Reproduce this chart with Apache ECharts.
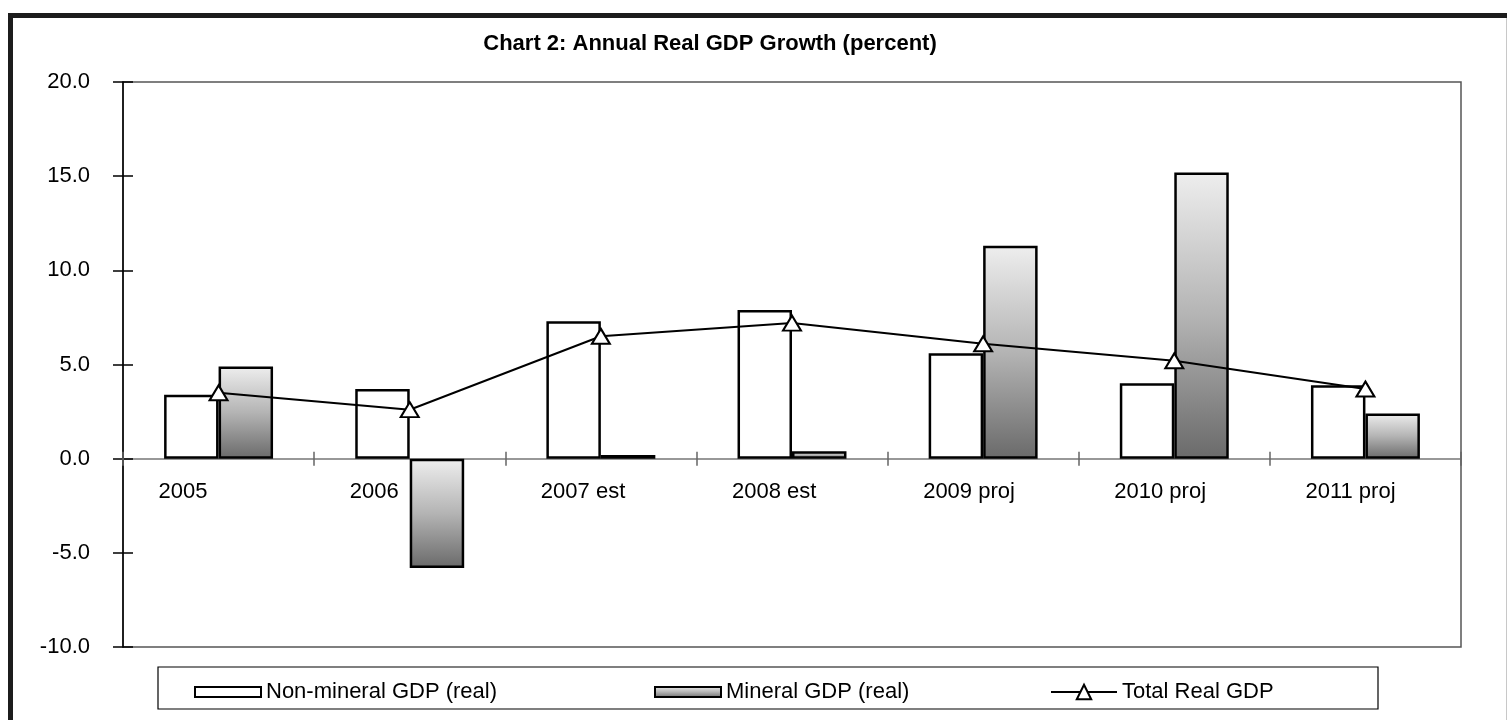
<!DOCTYPE html>
<html>
<head>
<meta charset="utf-8">
<script src="https://cdn.jsdelivr.net/npm/echarts@6/dist/echarts.min.js"></script>
<style>
html,body{margin:0;padding:0;background:#fff;}
#chart{width:1507px;height:720px;}
</style>
</head>
<body>
<div id="chart"></div>
<script>
var categories = ['2005', '2006', '2007 est', '2008 est', '2009 proj', '2010 proj', '2011 proj'];
var nonMineral = [3.4, 3.7, 7.3, 7.9, 5.6, 4.0, 3.9];
var mineral = [4.9, -5.8, 0.2, 0.4, 11.3, 15.2, 2.4];
var totalReal = [3.5, 2.6, 6.5, 7.2, 6.1, 5.2, 3.7];
var seriesNames = ['Non-mineral GDP (real)', 'Mineral GDP (real)', 'Total Real GDP'];
var titleText = 'Chart 2: Annual Real GDP Growth (percent)';
var yMin = -10, yMax = 20, yStep = 5;

var FONT = '"Liberation Sans", Arial, sans-serif';
var chart = echarts.init(document.getElementById('chart'), null, {renderer: 'canvas'});

var mineralGrad = new echarts.graphic.LinearGradient(0, 0, 0, 1, [
  {offset: 0, color: '#eeeeee'},
  {offset: 0.5, color: '#b4b4b4'},
  {offset: 1, color: '#6a6a6a'}
]);

var legendBase = {
  top: 681, padding: 0, itemWidth: 66, itemHeight: 10,
  textStyle: {fontFamily: FONT, fontSize: 22, color: '#000', lineHeight: 22},
  selectedMode: false
};

chart.setOption({
  animation: false,
  backgroundColor: '#fff',
  title: {
    text: titleText,
    left: 710, top: 33, padding: 0, textAlign: 'center',
    textStyle: {fontFamily: FONT, fontSize: 22, fontWeight: 'bold', color: '#000', lineHeight: 22}
  },
  grid: {
    left: 123, right: 46, top: 82, bottom: 73,
    show: true, borderColor: '#555', borderWidth: 1.5, backgroundColor: 'transparent'
  },
  legend: [
    Object.assign({}, legendBase, {left: 194, data: [{name: seriesNames[0], icon: 'rect'}]}),
    Object.assign({}, legendBase, {left: 654, data: [{name: seriesNames[1], icon: 'rect'}]}),
    Object.assign({}, legendBase, {left: 1050, itemHeight: 18, data: [seriesNames[2]]})
  ],
  xAxis: [{
    type: 'category', data: categories, boundaryGap: true, position: 'bottom',
    axisLine: {onZero: true, onZeroAxisIndex: 0, lineStyle: {color: '#777', width: 1.5}},
    axisTick: {show: true, inside: false, length: 7, lineStyle: {color: '#666', width: 1.5}},
    axisLabel: {
      fontFamily: FONT, fontSize: 22, color: '#000', margin: -166,
      align: 'left', padding: [0, 0, 0, -60], lineHeight: 22
    },
    splitLine: {show: false}
  }, {
    type: 'category', data: categories, boundaryGap: true, position: 'bottom',
    axisLine: {show: false, onZero: true, onZeroAxisIndex: 0},
    axisTick: {show: true, inside: true, length: 7, lineStyle: {color: '#666', width: 1.5}},
    axisLabel: {show: false},
    splitLine: {show: false}
  }],
  yAxis: [{
    type: 'value', min: yMin, max: yMax, interval: yStep,
    axisLine: {show: true, lineStyle: {color: '#000', width: 1.5}},
    axisTick: {show: true, inside: false, length: 10, lineStyle: {color: '#000', width: 1.5}},
    axisLabel: {
      fontFamily: FONT, fontSize: 22, color: '#000', margin: 33,
      formatter: function (v) { return v.toFixed(1); }
    },
    splitLine: {show: false}
  }, {
    type: 'value', min: yMin, max: yMax, interval: yStep, position: 'left',
    axisLine: {show: false},
    axisTick: {show: true, inside: true, length: 10, lineStyle: {color: '#000', width: 1.5}},
    axisLabel: {show: false},
    splitLine: {show: false}
  }],
  series: [{
    name: seriesNames[0], type: 'bar', data: nonMineral,
    barGap: '0%', barCategoryGap: '43%',
    itemStyle: {color: '#fff', borderColor: '#000', borderWidth: 2.5}
  }, {
    name: seriesNames[1], type: 'bar', data: mineral,
    barGap: '0%', barCategoryGap: '43%',
    itemStyle: {color: mineralGrad, borderColor: '#000', borderWidth: 2.5}
  }, {
    name: seriesNames[2], type: 'line', data: totalReal,
    symbol: 'triangle', symbolSize: [18, 15],
    lineStyle: {color: '#000', width: 2},
    itemStyle: {color: '#fff', borderColor: '#000', borderWidth: 2},
    z: 5
  }],
  graphic: [
    {type: 'rect', silent: true, z: 100,
     shape: {x: 10.5, y: 15.5, width: 1510, height: 720},
     style: {fill: 'none', stroke: '#1c1c1c', lineWidth: 5}},
    {type: 'line', silent: true, z: 100,
     shape: {x1: 1506.5, y1: 18, x2: 1506.5, y2: 720},
     style: {stroke: '#c8c8c8', lineWidth: 1}},
    {type: 'rect', silent: true, z: 100,
     shape: {x: 158, y: 667, width: 1220, height: 42},
     style: {fill: 'none', stroke: '#000', lineWidth: 1.2}}
  ]
});
</script>
</body>
</html>
